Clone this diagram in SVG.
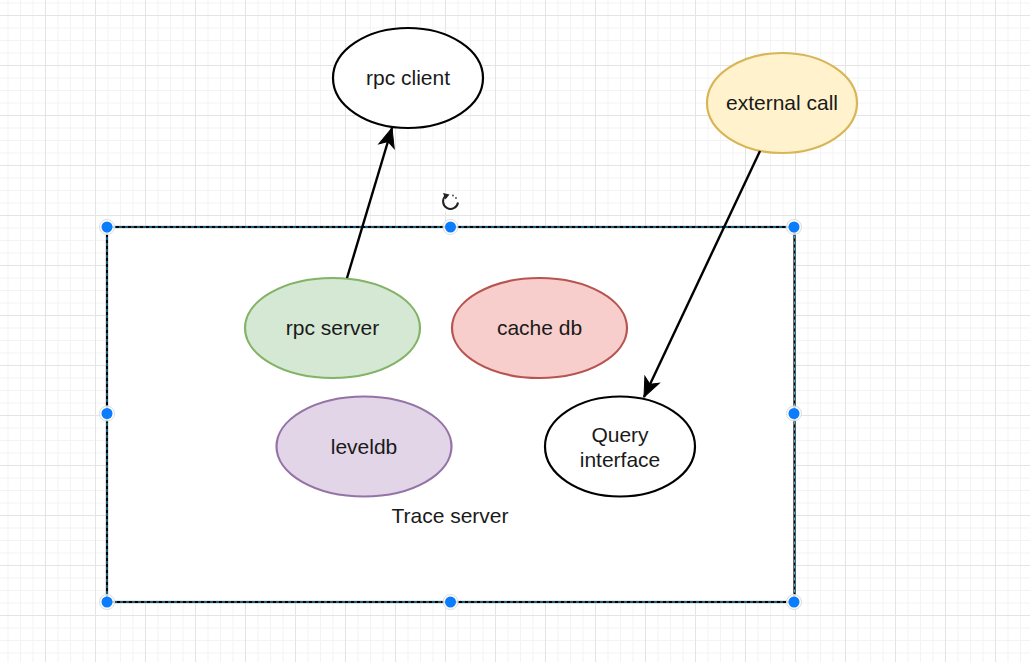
<svg xmlns="http://www.w3.org/2000/svg" width="1030" height="662" viewBox="0 0 1030 662">
  <style>
    .lbl { font-family: "Liberation Sans", Arial, sans-serif; font-size: 21px; fill: #1a1a1a; text-anchor: middle; }
    .node { stroke-width: 2.2; }
    .edge { stroke: #000; stroke-width: 2.4; fill: none; }
    .handle-halo { fill: #ffffff; fill-opacity: 0.8; stroke: #dcdcdc; stroke-width: 1; }
    .handle { fill: #0a7cfc; }
  </style>
  <defs>
    <pattern id="grid" patternUnits="userSpaceOnUse" x="45" y="15" width="50" height="50">
      <rect x="0" y="0" width="50" height="50" fill="#ffffff"/>
      <rect x="12.5" y="0" width="1" height="50" fill="#f3f3f3"/>
      <rect x="25" y="0" width="1" height="50" fill="#f3f3f3"/>
      <rect x="37.5" y="0" width="1" height="50" fill="#f3f3f3"/>
      <rect x="0" y="12.5" width="50" height="1" fill="#f3f3f3"/>
      <rect x="0" y="25" width="50" height="1" fill="#f3f3f3"/>
      <rect x="0" y="37.5" width="50" height="1" fill="#f3f3f3"/>
      <rect x="0" y="0" width="1" height="50" fill="#e4e4e4"/>
      <rect x="0" y="0" width="50" height="1" fill="#e4e4e4"/>
    </pattern>
    <marker id="arrow" markerUnits="userSpaceOnUse" markerWidth="22" markerHeight="18" viewBox="0 0 22 18" refX="20" refY="9" orient="auto" overflow="visible">
      <path d="M1,1 L20,9 L1,17 L6,9 Z" fill="#000" stroke="#000" stroke-width="1" stroke-linejoin="miter"/>
    </marker>
  </defs>

  <rect x="0" y="0" width="1030" height="662" fill="url(#grid)"/>

  <g id="trace-server">
    <rect x="107" y="227" width="687.5" height="375" fill="#ffffff" stroke="#000" stroke-width="2.2"/>
    <rect x="107" y="227" width="687.5" height="375" fill="none" stroke="#29b6f2" stroke-width="1" stroke-dasharray="3 3"/>
    <text class="lbl" x="450" y="523">Trace server</text>
  </g>

  <g id="rpc-client">
    <ellipse class="node" cx="408" cy="78" rx="75" ry="50" fill="#ffffff" stroke="#000"/>
    <text class="lbl" x="408" y="85">rpc client</text>
  </g>

  <g id="external-call">
    <ellipse class="node" cx="782" cy="103" rx="75" ry="50" fill="#fff2cc" stroke="#d6b656"/>
    <text class="lbl" x="782" y="110">external call</text>
  </g>

  <g id="rpc-server">
    <ellipse class="node" cx="332.5" cy="328" rx="87.5" ry="50" fill="#d5e8d4" stroke="#82b366"/>
    <text class="lbl" x="332.5" y="335">rpc server</text>
  </g>

  <g id="cache-db">
    <ellipse class="node" cx="539.5" cy="328" rx="87.5" ry="50" fill="#f8cecc" stroke="#b85450"/>
    <text class="lbl" x="539.5" y="335">cache db</text>
  </g>

  <g id="leveldb">
    <ellipse class="node" cx="364" cy="446.5" rx="87.5" ry="50" fill="#e1d5e7" stroke="#9673a6"/>
    <text class="lbl" x="364" y="453.5">leveldb</text>
  </g>

  <g id="query-interface">
    <ellipse class="node" cx="620" cy="446.5" rx="75" ry="50" fill="#ffffff" stroke="#000"/>
    <text class="lbl" x="620" y="442">Query</text>
    <text class="lbl" x="620" y="467">interface</text>
  </g>

  <g id="connectors">
    <line class="edge" x1="347" y1="278" x2="392" y2="128" marker-end="url(#arrow)"/>
    <line class="edge" x1="760" y1="151" x2="644" y2="397" marker-end="url(#arrow)"/>
  </g>

  <g id="selection-handles">
    <circle class="handle-halo" cx="107" cy="227" r="7.5"/><circle class="handle" cx="107" cy="227" r="5.5"/>
    <circle class="handle-halo" cx="450.5" cy="227" r="7.5"/><circle class="handle" cx="450.5" cy="227" r="5.5"/>
    <circle class="handle-halo" cx="794" cy="227" r="7.5"/><circle class="handle" cx="794" cy="227" r="5.5"/>
    <circle class="handle-halo" cx="107" cy="413.5" r="7.5"/><circle class="handle" cx="107" cy="413.5" r="5.5"/>
    <circle class="handle-halo" cx="794" cy="413.5" r="7.5"/><circle class="handle" cx="794" cy="413.5" r="5.5"/>
    <circle class="handle-halo" cx="107" cy="602" r="7.5"/><circle class="handle" cx="107" cy="602" r="5.5"/>
    <circle class="handle-halo" cx="450.5" cy="602" r="7.5"/><circle class="handle" cx="450.5" cy="602" r="5.5"/>
    <circle class="handle-halo" cx="794" cy="602" r="7.5"/><circle class="handle" cx="794" cy="602" r="5.5"/>
  </g>

  <g id="rotate-handle">
    <circle cx="450.5" cy="202" r="11" fill="#ffffff" fill-opacity="0.7"/>
    <path d="M 446 195.5 A 7.5 7.5 0 1 0 458 202.5" fill="none" stroke="#222" stroke-width="2"/>
    <path d="M 443 193 L 449.5 194.5 L 445.5 199.5 Z" fill="#222"/>
    <circle cx="453" cy="195.5" r="0.9" fill="#444"/>
    <circle cx="456" cy="198" r="0.9" fill="#444"/>
  </g>
</svg>
